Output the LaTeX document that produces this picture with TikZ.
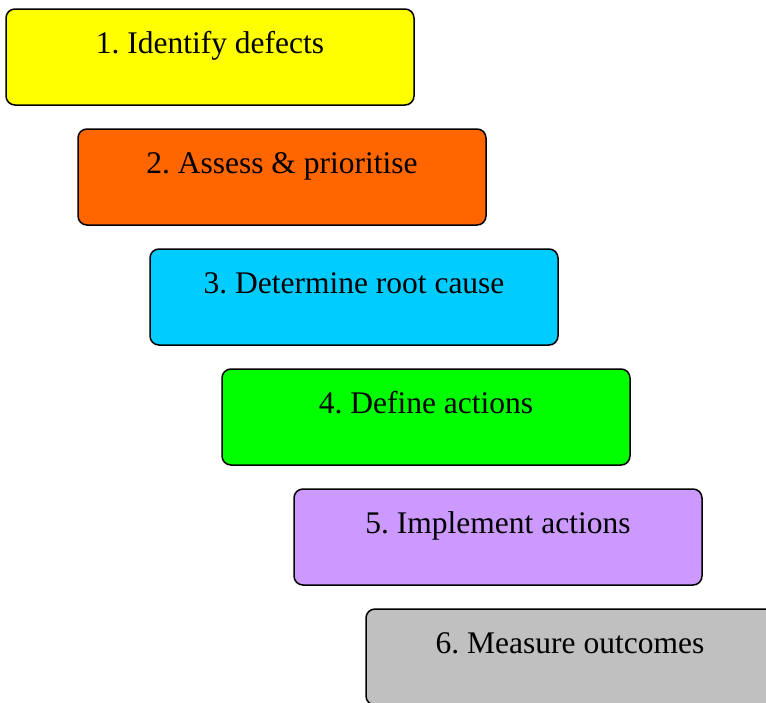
\documentclass[tikz,border=0pt]{standalone}
\usepackage{fontspec}
\setmainfont{Liberation Serif}
\frenchspacing
\definecolor{jaune}{HTML}{FFFF00}
\definecolor{orange}{HTML}{FF6600}
\definecolor{cyan}{HTML}{00CCFF}
\definecolor{vert}{HTML}{00FF00}
\definecolor{mauve}{HTML}{CC99FF}
\definecolor{gris}{HTML}{C0C0C0}
\begin{document}
\begin{tikzpicture}[x=1pt, y=-1pt]
\tikzset{etape/.style={draw, rounded corners=9pt, line width=1.5pt, minimum width=408pt, inner sep=0pt, text height=44pt, text depth=52pt, font=\fontsize{31.5}{36}\selectfont}}
\useasboundingbox (0, 0) rectangle (766, 702);
\clip (0, 0) rectangle (766, 702);
\node[etape, fill=jaune] (E1) at (210, 57) {1. Identify defects};
\node[etape, fill=orange] (E2) at (282, 177) {2. Assess \& prioritise};
\node[etape, fill=cyan] (E3) at (354, 297) {3. Determine root cause};
\node[etape, fill=vert] (E4) at (426, 417) {4. Define actions};
\node[etape, fill=mauve] (E5) at (498, 537) {5. Implement actions};
\node[etape, fill=gris] (E6) at (570, 657) {6. Measure outcomes};
\end{tikzpicture}
\end{document}
